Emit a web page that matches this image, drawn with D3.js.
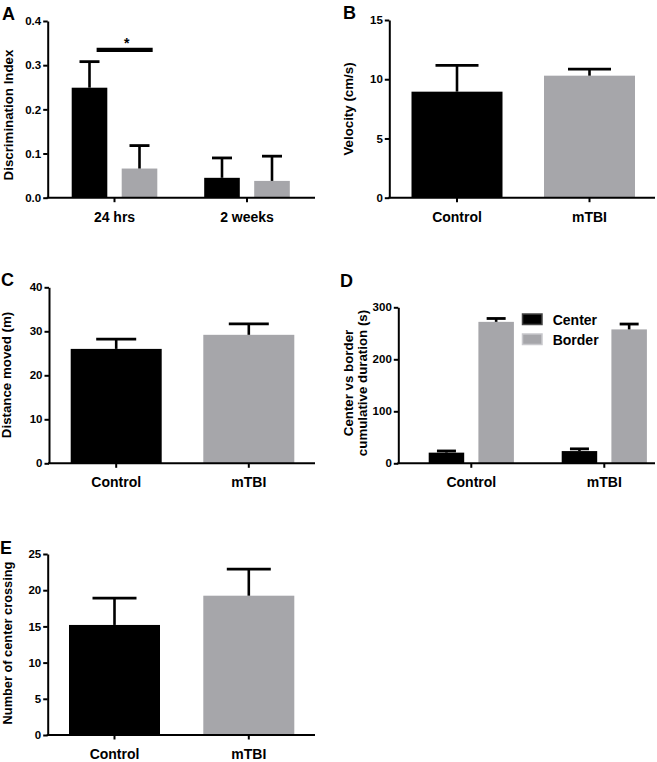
<!DOCTYPE html>
<html><head><meta charset="utf-8">
<script src="https://cdn.jsdelivr.net/npm/d3@7"></script>
<style>
body{margin:0;background:#fff}
text{font-family:"Liberation Sans",Arial,Helvetica,sans-serif;font-weight:bold;fill:#000}
</style>
</head><body>
<svg id="c" width="657" height="762"></svg>
<script>
// ---------------- data ----------------
const groupsA = ["24 hrs", "2 weeks"];
const seriesA = ["Control", "mTBI"];
const discControl = [0.249, 0.045];
const discControlSem = [0.059, 0.045];
const discMTBI = [0.066, 0.038];
const discMTBISem = [0.052, 0.056];
const ticksA = [0, 0.1, 0.2, 0.3, 0.4];

const catsB = ["Control", "mTBI"];
const velocity = [8.95, 10.3];
const velocitySem = [2.22, 0.56];
const ticksB = [0, 5, 10, 15];

const catsC = ["Control", "mTBI"];
const distance = [26.0, 29.2];
const distanceSem = [2.2, 2.5];
const ticksC = [0, 10, 20, 30, 40];

const groupsD = ["Control", "mTBI"];
const seriesD = ["Center", "Border"];
const centerDur = [20.5, 23.5];
const centerDurSem = [3.2, 4.3];
const borderDur = [272, 257.5];
const borderDurSem = [6.5, 10.3];
const ticksD = [0, 100, 200, 300];

const catsE = ["Control", "mTBI"];
const crossings = [15.2, 19.24];
const crossingsSem = [3.7, 3.66];
const ticksE = [0, 5, 10, 15, 20, 25];

const BLACK = "#000000", GRAY = "#a6a6aa";
const seriesColors = [BLACK, GRAY];

// ---------------- drawing ----------------
const svg = d3.select("#c");
const FONT = '"Liberation Sans",Arial,Helvetica,sans-serif';

function frame(p) {
  const g = svg.append("g");
  const y = d3.scaleLinear().domain([0, p.max]).range([p.y0, p.yTop]);
  const ay = g.append("g").attr("transform", `translate(${p.axisX},0)`)
    .call(d3.axisLeft(y).tickValues(p.ticks).tickFormat(p.fmt).tickSize(4.5).tickSizeOuter(0).tickPadding(2));
  ay.selectAll("path,line").attr("stroke", "#000").attr("stroke-width", 2);
  ay.selectAll("text").attr("font-family", FONT).attr("font-weight", "bold").attr("font-size", 11.5);
  return { g, y };
}
function xAxis(g, x, p) {
  const ax = g.append("g").attr("transform", `translate(0,${p.y0})`)
    .call(d3.axisBottom(x).tickSize(4.5).tickSizeOuter(0).tickPadding(9.5));
  ax.select(".domain").remove();
  ax.selectAll("line").attr("stroke", "#000").attr("stroke-width", 2);
  ax.selectAll("text").attr("font-family", FONT).attr("font-weight", "bold").attr("font-size", 14);
  g.append("line").attr("x1", p.axisX - 1).attr("x2", p.axisEnd)
    .attr("y1", p.y0).attr("y2", p.y0).attr("stroke", "#000").attr("stroke-width", 2);
}
function bar(g, y, x0, w, v, sem, color, capW) {
  g.append("rect").attr("x", x0).attr("width", w)
    .attr("y", y(v)).attr("height", y(0) - y(v)).attr("fill", color);
  const cx = x0 + w / 2;
  g.append("line").attr("x1", cx).attr("x2", cx).attr("y1", y(v)).attr("y2", y(v + sem))
    .attr("stroke", "#000").attr("stroke-width", 2.6);
  g.append("line").attr("x1", cx - capW / 2).attr("x2", cx + capW / 2)
    .attr("y1", y(v + sem)).attr("y2", y(v + sem))
    .attr("stroke", "#000").attr("stroke-width", 2.8);
}
function ylabel(lines, x, yc, size) {
  lines.forEach((t, i) => {
    svg.append("text").attr("transform", `translate(${x[i]},${yc}) rotate(-90)`)
      .attr("text-anchor", "middle").attr("font-size", size).text(t);
  });
}
function letter(t, x, y) {
  svg.append("text").attr("x", x).attr("y", y).attr("font-size", 18).text(t);
}
function simpleBand(cats, start, step, bw) {
  const pi = 1 - bw / step;
  return d3.scaleBand().domain(cats).range([start, start + step * (cats.length - pi)]).paddingInner(pi).paddingOuter(0);
}
function simplePanel(p, cats, vals, sems) {
  const { g, y } = frame(p);
  const x = simpleBand(cats, p.start, p.step, p.bw);
  cats.forEach((c, i) => bar(g, y, x(c), x.bandwidth(), vals[i], sems[i], seriesColors[i], p.capW));
  xAxis(g, x, p);
  return { g, x, y };
}
function groupedPanel(p, groups, series, vals, sems) {
  const { g, y } = frame(p);
  const x0 = d3.scaleBand().domain(groups)
    .range([p.c1 - p.gstep / 2, p.c1 - p.gstep / 2 + p.gstep * groups.length]).paddingInner(0).paddingOuter(0);
  const half = (p.sstep * (series.length - 1) + p.sbw) / 2;
  const x1 = d3.scaleBand().domain(series).range([-half, half]).paddingInner(1 - p.sbw / p.sstep).paddingOuter(0);
  groups.forEach((gr, gi) => {
    const gc = x0(gr) + x0.bandwidth() / 2;
    series.forEach((s, si) => bar(g, y, gc + x1(s), x1.bandwidth(), vals[si][gi], sems[si][gi], seriesColors[si], p.capW));
  });
  xAxis(g, x0, p);
  return { g, x0, x1, y };
}

// Panel A
const pA = { axisX: 47.7, axisEnd: 315, y0: 197.7, yTop: 21, max: 0.4, ticks: ticksA, fmt: d3.format(".1f"),
  c1: 114.5, gstep: 132.5, sstep: 50, sbw: 35.6, capW: 20 };
const A = groupedPanel(pA, groupsA, seriesA, [discControl, discMTBI], [discControlSem, discMTBISem]);
{
  const gc = A.x0(groupsA[0]) + A.x0.bandwidth() / 2;
  const bw = A.x1.bandwidth();
  const xs = gc + A.x1(seriesA[0]) + bw * 0.7;
  const xe = gc + A.x1(seriesA[1]) + bw * 0.87;
  A.g.append("line").attr("x1", xs).attr("x2", xe).attr("y1", 49.8).attr("y2", 49.8)
    .attr("stroke", "#000").attr("stroke-width", 4.2);
  A.g.append("text").attr("x", (xs + xe) / 2 + 2).attr("y", 47.8).attr("text-anchor", "middle")
    .attr("font-size", 14).text("*");
}
letter("A", 2, 20);
ylabel(["Discrimination Index"], [13.3], 115, 13.3);

// Panel B
const pB = { axisX: 389.3, axisEnd: 655, y0: 197.7, yTop: 20, max: 15, ticks: ticksB, fmt: d3.format("d"),
  start: 411.5, step: 132.5, bw: 91, capW: 43 };
simplePanel(pB, catsB, velocity, velocitySem);
letter("B", 343, 18.5);
ylabel(["Velocity (cm/s)"], [352.5], 109, 13.3);

// Panel C
const pC = { axisX: 49, axisEnd: 315, y0: 463.3, yTop: 287.3, max: 40, ticks: ticksC, fmt: d3.format("d"),
  start: 70.7, step: 132.6, bw: 91, capW: 40 };
simplePanel(pC, catsC, distance, distanceSem);
letter("C", 1, 286);
ylabel(["Distance moved (m)"], [11], 375, 13.3);

// Panel D
const pD = { axisX: 398.3, axisEnd: 655, y0: 463.3, yTop: 307.3, max: 300, ticks: ticksD, fmt: d3.format("d"),
  c1: 471.3, gstep: 133, sstep: 49.7, sbw: 35.5, capW: 19 };
groupedPanel(pD, groupsD, seriesD, [centerDur, borderDur], [centerDurSem, borderDurSem]);
letter("D", 340, 286.7);
ylabel(["Center vs border", "cumulative duration (s)"], [353, 366.5], 383, 13.3);
{
  const lg = svg.append("g");
  seriesD.forEach((s, i) => {
    const yy = 314 + i * 20;
    lg.append("rect").attr("x", 522.5).attr("y", yy).attr("width", 19.5).attr("height", 10.5)
      .attr("fill", seriesColors[i]).attr("stroke", i === 0 ? "#444" : "#c8c8cc").attr("stroke-width", 1.5);
    lg.append("text").attr("x", 552.7).attr("y", yy + 11).attr("font-size", 14).text(s);
  });
}

// Panel E
const pE = { axisX: 47.7, axisEnd: 315, y0: 735, yTop: 554, max: 25, ticks: ticksE, fmt: d3.format("d"),
  start: 69, step: 134.3, bw: 91, capW: 44 };
simplePanel(pE, catsE, crossings, crossingsSem);
letter("E", 0, 553.5);
ylabel(["Number of center crossing"], [11.5], 643, 12.8);
</script>
</body></html>
